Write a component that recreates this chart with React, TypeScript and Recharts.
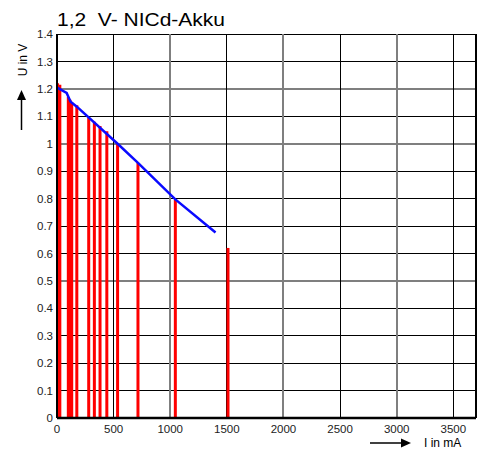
import React from 'react';
import {
  ComposedChart,
  Line,
  XAxis,
  YAxis,
  ReferenceLine,
} from 'recharts';

const CURRENT_TICKS = [0, 500, 1000, 1500, 2000, 2500, 3000, 3500];
const VOLTAGE_TICKS = [0, 0.1, 0.2, 0.3, 0.4, 0.5, 0.6, 0.7, 0.8, 0.9, 1, 1.1, 1.2, 1.3, 1.4];

// grid lines that are drawn grey and thicker in the original
const GREY_CURRENTS = [1000, 2000, 3000];
const GREY_VOLTAGES = [0.5, 1, 1.2];

// red measurement bars (mA / V)
const BAR_CURRENTS = [5, 25, 100, 115, 130, 175, 280, 330, 380, 440, 535, 715, 1045, 1510];
const BAR_VOLTAGES = [1.22, 1.215, 1.17, 1.16, 1.15, 1.14, 1.095, 1.08, 1.065, 1.045, 1.0, 0.93, 0.795, 0.62];

// blue discharge curve
const CURVE_CURRENTS = [0, 85, 120, 175, 540, 715, 1045, 1400];
const CURVE_VOLTAGES = [1.205, 1.185, 1.153, 1.135, 0.998, 0.93, 0.797, 0.676];

const FONT = '"Liberation Sans", Arial, Helvetica, sans-serif';

const curveData = CURVE_CURRENTS.map((i, idx) => ({ i, u: CURVE_VOLTAGES[idx] }));

const fmtVolt = (v: number) => String(Math.round(v * 10) / 10);

export default function App() {
  return (
    <div style={{ position: 'absolute', left: 0, top: 0, width: 477, height: 450, fontFamily: FONT }}>
      <ComposedChart
        width={477}
        height={450}
        data={curveData}
        margin={{ top: 34, right: 1, bottom: 0, left: 0 }}
      >
        <XAxis
          type="number"
          dataKey="i"
          domain={[0, 3700]}
          ticks={CURRENT_TICKS}
          allowDataOverflow
          height={32}
          tickLine={false}
          tickSize={4}
          tickMargin={3}
          axisLine={{ stroke: '#000', strokeWidth: 2.5 }}
          tick={{ fill: '#222', fontSize: 11.5, fontFamily: FONT }}
        />
        <YAxis
          type="number"
          domain={[0, 1.4]}
          ticks={VOLTAGE_TICKS}
          allowDataOverflow
          width={57}
          tickLine={false}
          tickSize={4}
          tickMargin={0}
          tickFormatter={fmtVolt}
          axisLine={{ stroke: '#000', strokeWidth: 2 }}
          tick={{ fill: '#222', fontSize: 11.5, fontFamily: FONT }}
        />
        {VOLTAGE_TICKS.filter((v) => v > 0).map((v) => {
          const grey = GREY_VOLTAGES.includes(v);
          return (
            <ReferenceLine
              key={'h' + v}
              y={v}
              stroke={grey ? '#7f7f7f' : '#000'}
              strokeWidth={grey ? 2 : 1}
              shapeRendering="crispEdges"
            />
          );
        })}
        {CURRENT_TICKS.filter((c) => c > 0).map((c) => {
          const grey = GREY_CURRENTS.includes(c);
          return (
            <ReferenceLine
              key={'v' + c}
              x={c}
              stroke={grey ? '#7f7f7f' : '#000'}
              strokeWidth={grey ? 2 : 1}
              shapeRendering="crispEdges"
            />
          );
        })}
        <ReferenceLine x={3700} stroke="#000" strokeWidth={2} shapeRendering="crispEdges" />
        {BAR_CURRENTS.map((c, idx) => (
          <ReferenceLine
            key={'b' + c}
            segment={[
              { x: c, y: 0 },
              { x: c, y: BAR_VOLTAGES[idx] },
            ]}
            stroke="#ff0000"
            strokeWidth={3}
          />
        ))}
        <Line
          dataKey="u"
          type="linear"
          stroke="#0a0aff"
          strokeWidth={2.5}
          dot={false}
          isAnimationActive={false}
        />
      </ComposedChart>
      <svg
        width={477}
        height={450}
        style={{ position: 'absolute', left: 0, top: 0, pointerEvents: 'none' }}
      >
        <text
          x={57}
          y={26}
          fontSize={18}
          fill="#000"
          fontFamily={FONT}
          textLength={168}
          lengthAdjust="spacingAndGlyphs"
          style={{ whiteSpace: 'pre' }}
        >
          1,2  V- NICd-Akku
        </text>
        <text
          x={0}
          y={0}
          fontSize={12}
          fill="#000"
          fontFamily={FONT}
          textAnchor="middle"
          transform="translate(26.5 60) rotate(-90)"
        >
          U in V
        </text>
        <line x1={21.5} y1={130} x2={21.5} y2={98} stroke="#000" strokeWidth={1.5} />
        <polygon points="21.5,90 17,100 26,100" fill="#000" />
        <line x1={370} y1={443} x2={403} y2={443} stroke="#000" strokeWidth={1.5} />
        <polygon points="411,443 401,438.5 401,447.5" fill="#000" />
        <text x={424} y={447} fontSize={12} fill="#000" fontFamily={FONT}>
          I in mA
        </text>
      </svg>
    </div>
  );
}
